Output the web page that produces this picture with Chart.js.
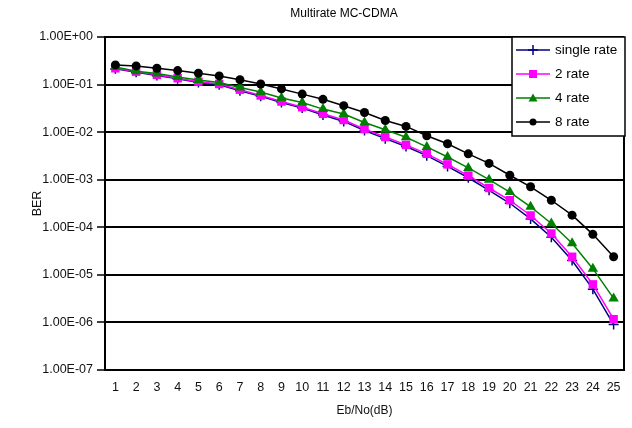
<!DOCTYPE html>
<html>
<head>
<meta charset="utf-8">
<script src="https://cdn.jsdelivr.net/npm/chart.js@4/dist/chart.umd.min.js"></script>
<style>
  html, body { margin: 0; padding: 0; background: #fff; }
  #wrap { width: 632px; height: 428px; }
</style>
</head>
<body>
<div id="wrap"><canvas id="c" width="632" height="428"></canvas></div>
<script>
const chartTitle = 'Multirate MC-CDMA';
const xTitle = 'Eb/No(dB)';
const yTitle = 'BER';
const categories = ['1','2','3','4','5','6','7','8','9','10','11','12','13','14','15','16','17','18','19','20','21','22','23','24','25'];
const yTickValues = [1, 1e-1, 1e-2, 1e-3, 1e-4, 1e-5, 1e-6, 1e-7];
const yTickLabels = ['1.00E+00','1.00E-01','1.00E-02','1.00E-03','1.00E-04','1.00E-05','1.00E-06','1.00E-07'];
const seriesNames = ['single rate', '2 rate', '4 rate', '8 rate'];
const singleRate = [0.215,0.182,0.155,0.132,0.111,0.099,0.074,0.057,0.042,0.032,0.023,0.0168,0.0108,0.0073,0.0050,0.0032,0.0019,0.0011,6.0e-4,3.2e-4,1.5e-4,6.2e-5,2.0e-5,5.0e-6,9e-7];
const rate2 = [0.22,0.187,0.16,0.136,0.115,0.103,0.078,0.059,0.044,0.0335,0.0243,0.018,0.0116,0.0079,0.0054,0.0035,0.0021,0.00122,6.7e-4,3.7e-4,1.77e-4,7.4e-5,2.4e-5,6.3e-6,1.17e-6];
const rate4 = [0.235,0.19,0.17,0.145,0.125,0.11,0.0865,0.070,0.052,0.042,0.0305,0.024,0.016,0.0112,0.0078,0.0049,0.0030,0.00177,0.001,5.5e-4,2.7e-4,1.2e-4,4.6e-5,1.35e-5,3.2e-6];
const rate8 = [0.259,0.247,0.22,0.197,0.173,0.152,0.126,0.103,0.081,0.063,0.049,0.036,0.0259,0.0176,0.0132,0.0084,0.0057,0.0035,0.0022,0.00124,0.00071,0.00037,1.8e-4,7.1e-5,2.4e-5];

const FONT = 'Liberation Sans, Arial, sans-serif';

function drawMarker(ctx, style, x, y, r, color) {
  ctx.save();
  ctx.fillStyle = color; ctx.strokeStyle = color; ctx.lineWidth = 1.5;
  ctx.beginPath();
  if (style === 'cross') {
    ctx.moveTo(x - r, y); ctx.lineTo(x + r, y);
    ctx.moveTo(x, y - r); ctx.lineTo(x, y + r);
    ctx.stroke();
  } else if (style === 'rect') {
    ctx.rect(x - r, y - r, 2 * r, 2 * r); ctx.fill();
  } else if (style === 'triangle') {
    ctx.moveTo(x, y - r); ctx.lineTo(x + r, y + r * 0.8); ctx.lineTo(x - r, y + r * 0.8); ctx.closePath(); ctx.fill();
  } else {
    ctx.arc(x, y, r, 0, Math.PI * 2); ctx.fill();
  }
  ctx.restore();
}

const framePlugin = {
  id: 'frame',
  afterDraw(chart) {
    const ctx = chart.ctx, a = chart.chartArea;
    ctx.save();
    ctx.strokeStyle = '#000';
    ctx.lineWidth = 2;
    ctx.beginPath();
    ctx.moveTo(a.right, a.top); ctx.lineTo(a.right, a.bottom);
    ctx.moveTo(a.left, a.bottom); ctx.lineTo(a.right, a.bottom);
    ctx.stroke();
    // title
    ctx.fillStyle = '#000';
    ctx.font = '12px ' + FONT;
    ctx.textAlign = 'center';
    ctx.textBaseline = 'middle';
    ctx.fillText(chartTitle, 344, 14);
    // legend
    const lx = 512, ly = 37, lw = 113, lh = 99;
    ctx.fillStyle = '#fff';
    ctx.fillRect(lx, ly, lw, lh);
    ctx.strokeStyle = '#000';
    ctx.lineWidth = 1.5;
    ctx.strokeRect(lx, ly, lw, lh);
    const rowY = [50, 74, 98, 122];
    chart.data.datasets.forEach((ds, i) => {
      const y = rowY[i];
      ctx.strokeStyle = ds.borderColor; ctx.lineWidth = 1.5;
      ctx.beginPath(); ctx.moveTo(516, y); ctx.lineTo(550, y); ctx.stroke();
      const r = ds.pointStyle === 'rect' ? 4 : ds.pointStyle === 'cross' ? 5 : ds.pointStyle === 'triangle' ? 4.5 : 3.5;
      drawMarker(ctx, ds.pointStyle, 533, y, r, ds.borderColor);
      ctx.fillStyle = '#000';
      ctx.font = '13.5px ' + FONT;
      ctx.textAlign = 'left';
      ctx.textBaseline = 'middle';
      ctx.fillText(ds.label, 555, y);
    });
    ctx.restore();
  }
};

const datasets = [
  { label: seriesNames[0], data: singleRate, borderColor: '#000080', backgroundColor: '#000080', pointStyle: 'cross', pointRadius: 5, pointBorderWidth: 1.5, borderWidth: 1.5, order: 3 },
  { label: seriesNames[1], data: rate2, borderColor: '#FF00FF', backgroundColor: '#FF00FF', pointStyle: 'rect', pointRadius: 6, pointBorderWidth: 0, borderWidth: 1.5, order: 2 },
  { label: seriesNames[2], data: rate4, borderColor: '#008000', backgroundColor: '#008000', pointStyle: 'triangle', pointRadius: 6, pointBorderWidth: 0, borderWidth: 1.5, order: 1 },
  { label: seriesNames[3], data: rate8, borderColor: '#000000', backgroundColor: '#000000', pointStyle: 'circle', pointRadius: 4.5, pointBorderWidth: 0, borderWidth: 1.5, order: 0 }
];

new Chart(document.getElementById('c'), {
  type: 'line',
  data: { labels: categories, datasets },
  options: {
    responsive: false,
    animation: false,
    devicePixelRatio: 1,
    layout: { padding: { left: 26, right: 8, top: 37, bottom: 7 } },
    plugins: { legend: { display: false }, title: { display: false }, tooltip: { enabled: false } },
    elements: { line: { tension: 0 } },
    scales: {
      x: {
        type: 'category',
        offset: true,
        grid: { display: false, drawTicks: false },
        border: { display: true, color: '#000', width: 2 },
        ticks: { color: '#111', font: { family: FONT, size: 12.5 }, padding: 10, maxRotation: 0, autoSkip: false },
        title: { display: true, text: xTitle, color: '#111', font: { family: FONT, size: 12 }, padding: { top: 0, bottom: 3 } },
        afterFit(s) { s.height = 51; }
      },
      y: {
        type: 'logarithmic',
        min: 1e-7,
        max: 1,
        afterBuildTicks(s) { s.ticks = yTickValues.map(v => ({ value: v })); },
        ticks: {
          color: '#111', font: { family: FONT, size: 12.5 }, padding: 4,
          callback(v) { const i = yTickValues.findIndex(t => Math.abs(Math.log10(t) - Math.log10(v)) < 1e-6); return i >= 0 ? yTickLabels[i] : ''; }
        },
        grid: { color: '#000', lineWidth: 2, drawTicks: true, tickLength: 8, tickColor: '#000', tickWidth: 1.5 },
        border: { display: true, color: '#000', width: 2 },
        title: { display: true, text: yTitle, color: '#111', font: { family: FONT, size: 12.5 }, padding: { top: 4, bottom: 0 } },
        afterFit(s) { s.width = 79; }
      }
    }
  },
  plugins: [framePlugin]
});
</script>
</body>
</html>
